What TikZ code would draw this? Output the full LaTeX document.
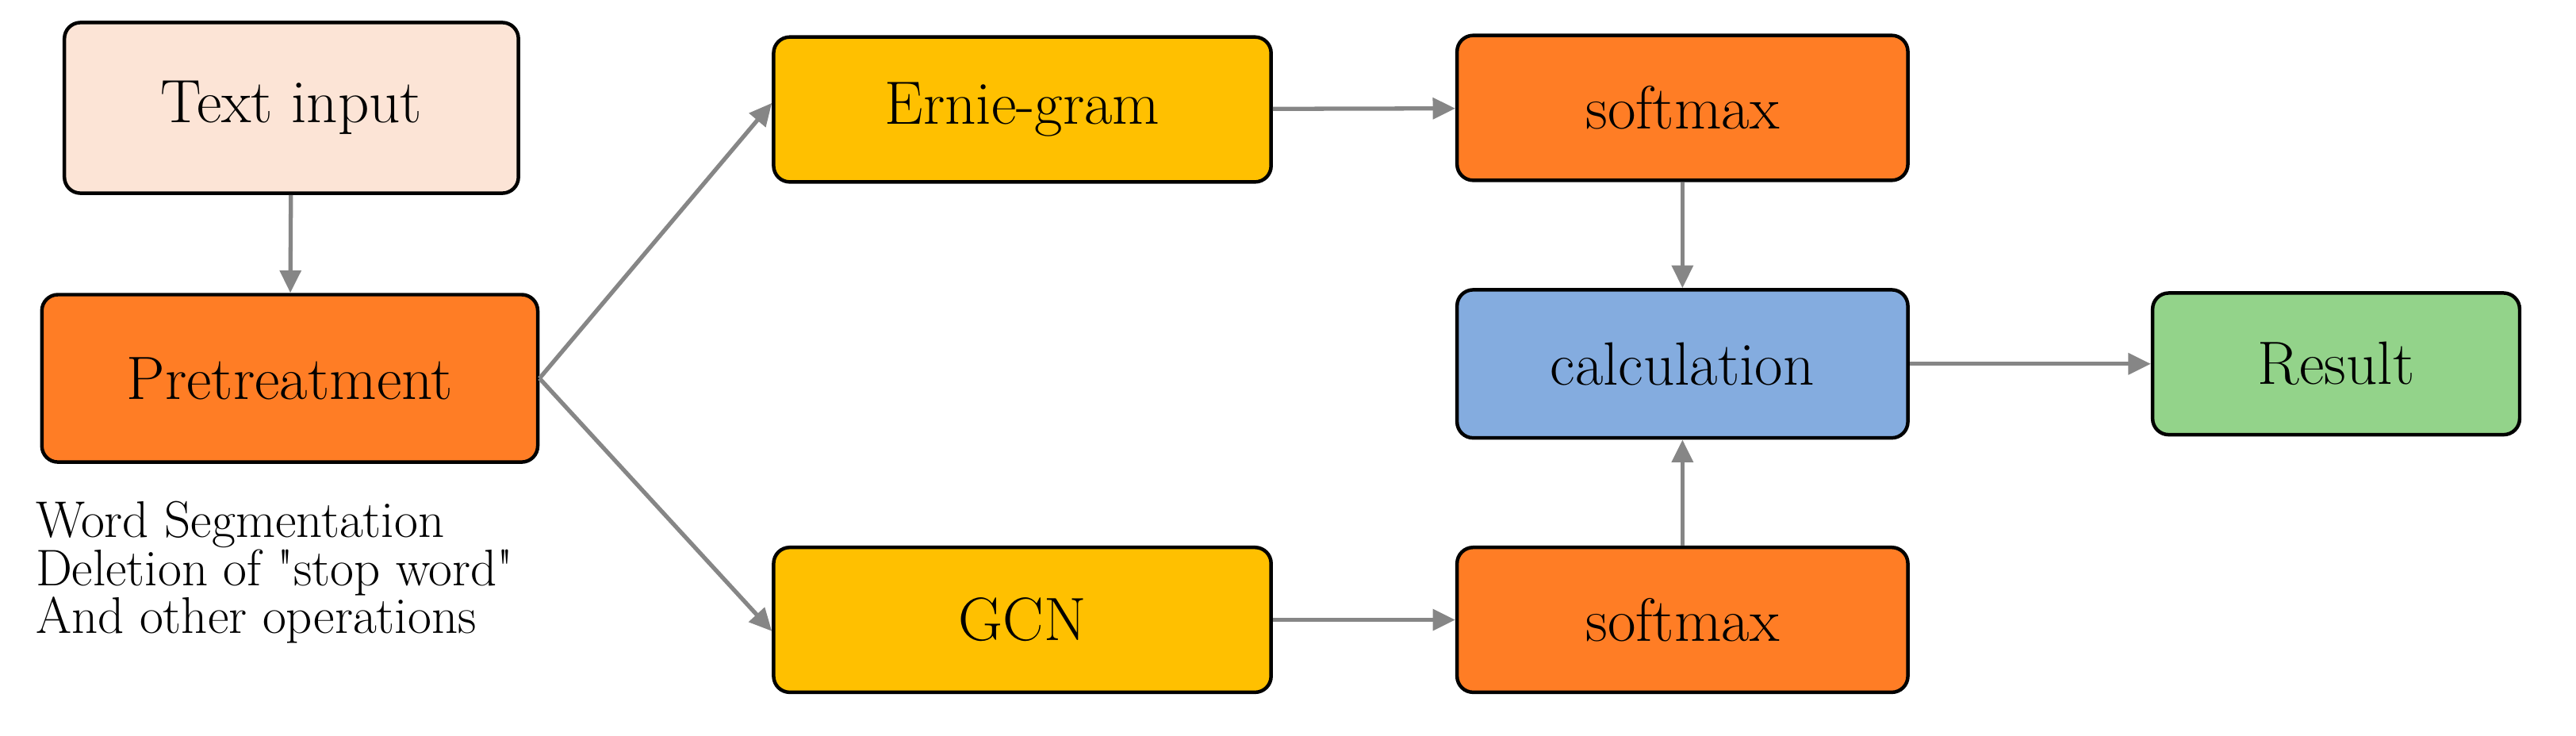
\documentclass[tikz,border=0pt]{standalone}
\usepackage{fontspec}
\usetikzlibrary{arrows.meta}
\begin{document}
\begin{tikzpicture}[x=1pt,y=-1pt,
  box/.style={draw=black,line width=2.2pt,rounded corners=10pt,minimum width=280pt,minimum height=90pt,font=\fontsize{38}{44}\selectfont,inner sep=0pt},
  arr/.style={draw=gray!95,line width=2.6pt,-{Triangle[length=14pt,width=13pt]}}]
\useasboundingbox (0,0) rectangle (1600,457);
\definecolor{pink}{HTML}{FCE4D6}
\definecolor{org}{HTML}{FF7D25}
\definecolor{yel}{HTML}{FFC000}
\definecolor{blu}{HTML}{84ACDF}
\definecolor{grn}{HTML}{93D38A}
\node[box,fill=pink,minimum width=282pt,minimum height=106pt] (ti) at (181,67) {Text input};
\node[box,fill=org,minimum width=308pt,minimum height=104pt] (pre) at (180,235) {Pretreatment};
\node[box,fill=yel,minimum width=309pt] (ern) at (635,68) {Ernie-gram};
\node[box,fill=yel,minimum width=309pt] (gcn) at (635,385) {GCN};
\node[box,fill=org] (s1) at (1045,67) {softmax};
\node[box,fill=blu,minimum height=92pt] (calc) at (1045,226) {calculation};
\node[box,fill=org] (s2) at (1045,385) {softmax};
\node[box,fill=grn,minimum width=228pt,minimum height=88pt] (res) at (1451,226) {Result};
\node[anchor=north west,align=left,font=\fontsize{32}{27.5}\selectfont,inner sep=0pt] (note) at (22,311) {Word Segmentation\\Deletion of \textquotedbl stop word\textquotedbl\\And other operations};
\draw[arr] (ti) -- (pre);
\draw[arr] (pre.east) -- ([yshift=4pt]ern.west);
\draw[arr] (pre.east) -- ([yshift=-7pt]gcn.west);
\draw[arr] (ern) -- (s1);
\draw[arr] (gcn) -- (s2);
\draw[arr] (s1) -- (calc);
\draw[arr] (s2) -- (calc);
\draw[arr] (calc) -- (res);
\end{tikzpicture}
\end{document}
